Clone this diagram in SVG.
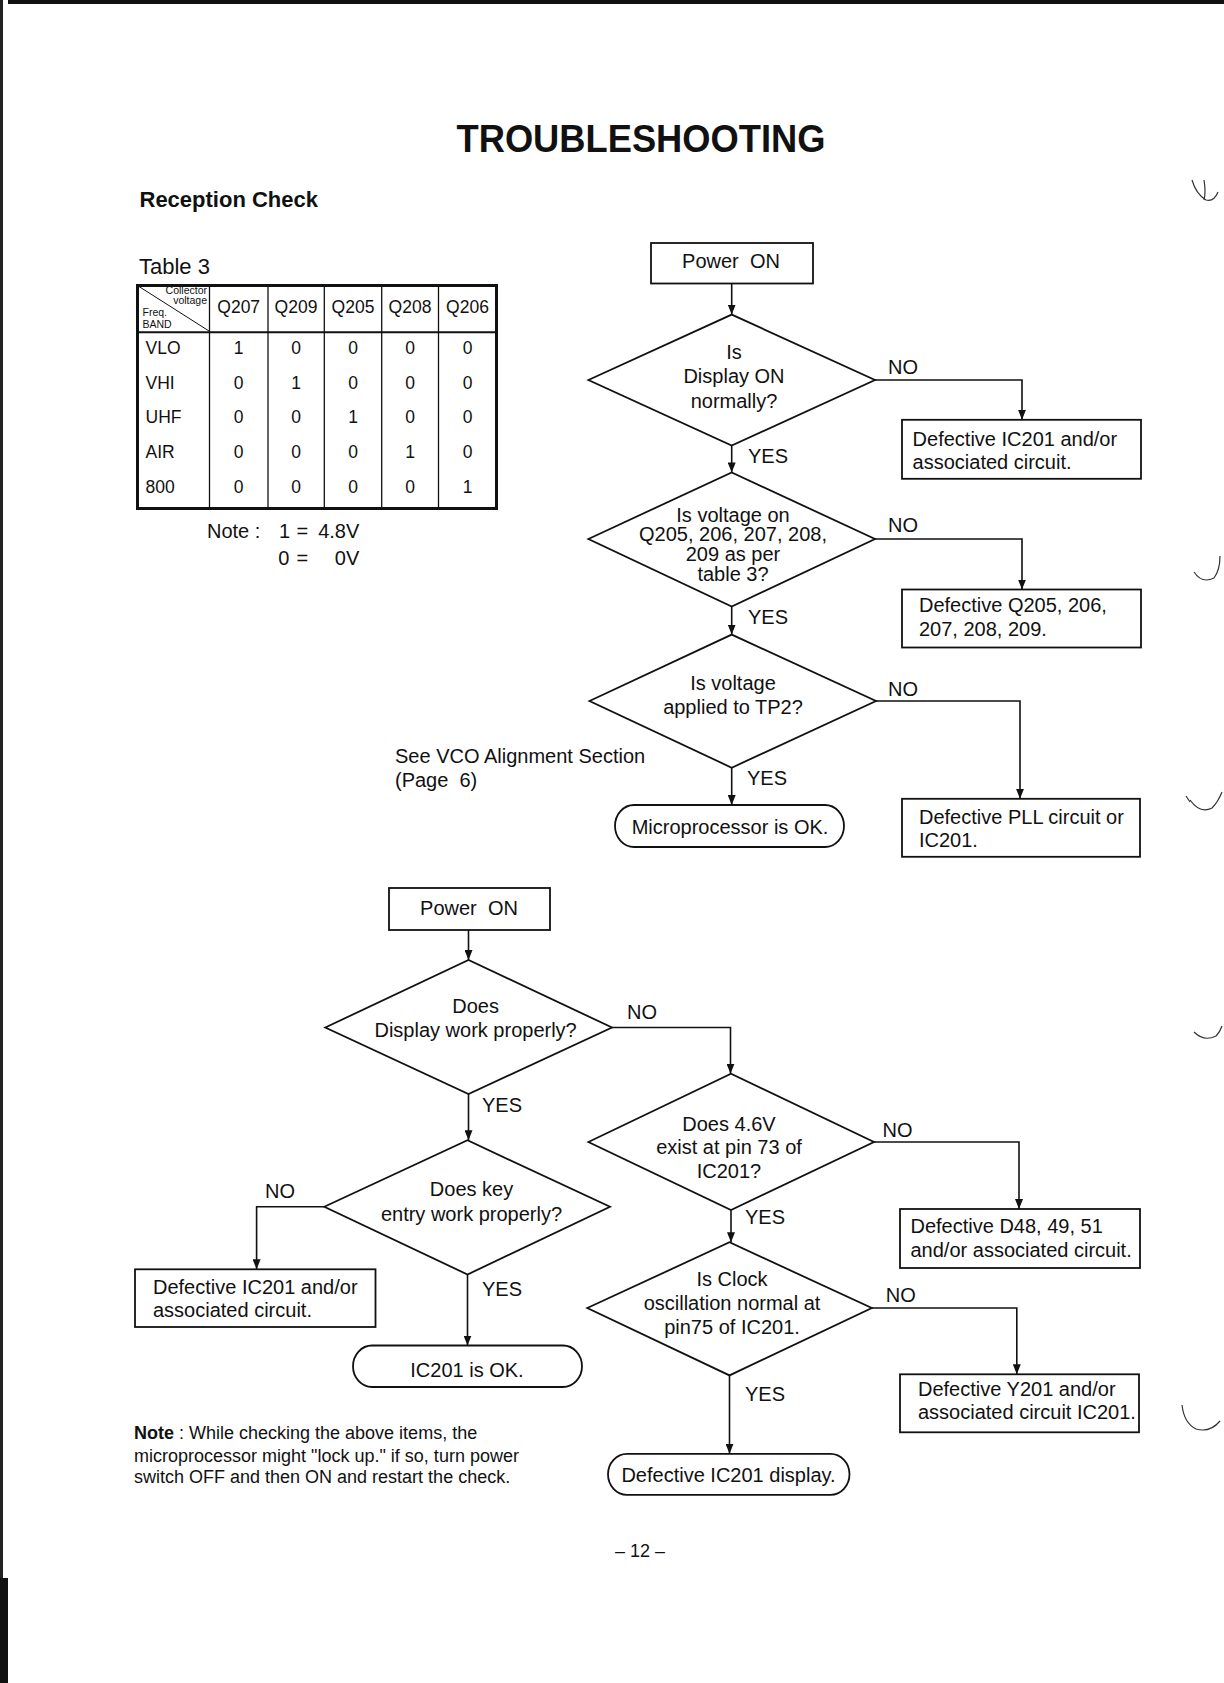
<svg xmlns="http://www.w3.org/2000/svg" width="1224" height="1683" viewBox="0 0 1224 1683">
<style>
text{font-family:"Liberation Sans",Arial,Helvetica,sans-serif;fill:#111}
.t{font-size:20px}
.c{text-anchor:middle}
.e{text-anchor:end}
.pre{white-space:pre}
.sm{font-size:10.5px}
.tb{font-size:17.5px}
.nt{font-size:18px}
.shape{fill:none;stroke:#111;stroke-width:1.8}
.thin{fill:none;stroke:#111;stroke-width:1.3}
#connectors path{fill:none;stroke:#111;stroke-width:1.6;marker-end:url(#ah)}
.art{fill:none;stroke:#333;stroke-width:1.2}
</style>
<defs>
<marker id="ah" viewBox="0 0 10 8" refX="10" refY="4" markerWidth="10" markerHeight="8" markerUnits="userSpaceOnUse" orient="auto">
<path d="M0,0 L10,4 L0,8 z" fill="#111"/>
</marker>
</defs>
<rect width="1224" height="1683" fill="#fff"/>
<!-- scan edges -->
<rect x="8" y="0" width="1216" height="4" fill="#111"/>
<rect x="0" y="0" width="3" height="1683" fill="#222"/>
<rect x="0" y="1578" width="8" height="105" fill="#111"/>
<g class="art">
<path d="M1192,180 q4,14 14,20 q8,2 12,-8"/><path d="M1204,180 q2,12 0,20"/>
<path d="M1194,572 q8,12 20,6 q6,-8 6,-22"/>
<path d="M1190,800 q10,14 22,8 q6,-6 10,-16"/><path d="M1186,796 l4,6"/>
<path d="M1194,1032 q10,10 22,4 q4,-4 6,-10"/>
<path d="M1182,1405 q2,18 14,24 q14,4 24,-8"/>
</g>
<text x="641" y="152" class="c" font-size="39" font-weight="bold" textLength="369" lengthAdjust="spacingAndGlyphs">TROUBLESHOOTING</text>
<text x="139.5" y="207" font-size="22" font-weight="bold">Reception Check</text>
<text x="139" y="273.5" font-size="22">Table 3</text>
<g id="table3">
<rect x="137.5" y="285.5" width="359" height="223" fill="none" stroke="#111" stroke-width="3"/>
<path class="thin" d="M209.5,285.5V508.5M268,285.5V508.5M324.3,285.5V508.5M381.7,285.5V508.5M438.5,285.5V508.5"/>
<path d="M137.5,332.3H496.5" stroke="#111" stroke-width="2"/>
<path d="M139,286.5L209,331" stroke="#111" stroke-width="1"/>
<text x="207" y="293.5" class="sm e">Collector</text>
<text x="207" y="303.5" class="sm e">voltage</text>
<text x="142.5" y="316" class="sm">Freq.</text>
<text x="142.5" y="328" class="sm">BAND</text>
<g class="tb c">
<text x="238.7" y="313.3">Q207</text><text x="296" y="313.3">Q209</text><text x="353" y="313.3">Q205</text><text x="410" y="313.3">Q208</text><text x="467.5" y="313.3">Q206</text>
</g>
<g class="tb">
<text x="145.5" y="354">VLO</text><text x="145.5" y="389">VHI</text><text x="145.5" y="423.3">UHF</text><text x="145.5" y="458.3">AIR</text><text x="145.5" y="493.3">800</text>
</g>
<g class="tb c">
<text x="238.7" y="354">1</text><text x="296" y="354">0</text><text x="353" y="354">0</text><text x="410" y="354">0</text><text x="467.5" y="354">0</text>
<text x="238.7" y="389">0</text><text x="296" y="389">1</text><text x="353" y="389">0</text><text x="410" y="389">0</text><text x="467.5" y="389">0</text>
<text x="238.7" y="423.3">0</text><text x="296" y="423.3">0</text><text x="353" y="423.3">1</text><text x="410" y="423.3">0</text><text x="467.5" y="423.3">0</text>
<text x="238.7" y="458.3">0</text><text x="296" y="458.3">0</text><text x="353" y="458.3">0</text><text x="410" y="458.3">1</text><text x="467.5" y="458.3">0</text>
<text x="238.7" y="493.3">0</text><text x="296" y="493.3">0</text><text x="353" y="493.3">0</text><text x="410" y="493.3">0</text><text x="467.5" y="493.3">1</text>
</g>
</g>
<g id="table-note" class="t">
<text x="207" y="538.3">Note :</text>
<text x="279" y="538.3">1</text><text x="296.5" y="538.3">=</text><text x="359.3" y="538.3" class="e">4.8V</text>
<text x="278.3" y="565">0</text><text x="296.5" y="565" fill="#777">=</text><text x="359.3" y="565" class="e">0V</text>
</g>

<g id="connectors">
<path d="M731.7,283.5V314.6"/>
<path d="M875,380H1022V419.8"/>
<path d="M731.7,445.6V472.4"/>
<path d="M875,539H1022V589.5"/>
<path d="M731.7,606.6V634.6"/>
<path d="M876,701H1020V798.8"/>
<path d="M731.7,767.7V805"/>
<path d="M468.5,930V960"/>
<path d="M612,1027.5H730.5V1073.7"/>
<path d="M874,1142H1019V1209"/>
<path d="M468.5,1094V1140.3"/>
<path d="M324.3,1206.8H256.6V1269.3"/>
<path d="M467.5,1274.5V1345.5"/>
<path d="M731,1210V1242.3"/>
<path d="M871.8,1308H1016.8V1374.3"/>
<path d="M729.5,1375.4V1453.8"/>
</g>
<g id="edge-labels" class="t">
<text x="888" y="373.6">NO</text>
<text x="748" y="462.8">YES</text>
<text x="888" y="531.5">NO</text>
<text x="748" y="623.8">YES</text>
<text x="888" y="695.8">NO</text>
<text x="747" y="785">YES</text>
<text x="627" y="1019">NO</text>
<text x="482" y="1112.4">YES</text>
<text x="882.6" y="1137">NO</text>
<text x="265" y="1198.2">NO</text>
<text x="482" y="1296">YES</text>
<text x="745" y="1224">YES</text>
<text x="885.8" y="1302.4">NO</text>
<text x="745" y="1401">YES</text>
</g>

<g id="power-on-1">
<rect class="shape" x="651" y="243" width="162" height="40.5"/>
<text x="731" y="268" class="t c pre" xml:space="preserve">Power  ON</text>
</g>
<g id="display-on">
<polygon class="shape" points="588.4,380 731.7,314.6 875,380 731.7,445.6"/>
<text class="t c"><tspan x="734" y="358.6">Is</tspan><tspan x="734" y="383.3">Display ON</tspan><tspan x="734" y="408">normally?</tspan></text>
</g>
<g id="defective-ic201-a">
<rect class="shape" x="902" y="419.8" width="239" height="59"/>
<text class="t"><tspan x="912.6" y="445.6">Defective IC201 and/or</tspan><tspan x="912.6" y="469.2">associated circuit.</tspan></text>
</g>
<g id="voltage-table3">
<polygon class="shape" points="588.4,539 731.7,472.4 875,539 731.7,606.6"/>
<text class="t c"><tspan x="733" y="521.8">Is voltage on</tspan><tspan x="733" y="541">Q205, 206, 207, 208,</tspan><tspan x="733" y="560.5">209 as per</tspan><tspan x="733" y="580.9">table 3?</tspan></text>
</g>
<g id="defective-q">
<rect class="shape" x="902" y="589.5" width="239" height="58"/>
<text class="t"><tspan x="919" y="612">Defective Q205, 206,</tspan><tspan x="919" y="635.6">207, 208, 209.</tspan></text>
</g>
<g id="voltage-tp2">
<polygon class="shape" points="589.5,701 731.7,634.6 876,701 731.7,767.7"/>
<text class="t c"><tspan x="733" y="690.4">Is voltage</tspan><tspan x="733" y="714">applied to TP2?</tspan></text>
</g>
<g id="defective-pll">
<rect class="shape" x="902" y="798.8" width="238" height="58"/>
<text class="t"><tspan x="919" y="823.5">Defective PLL circuit or</tspan><tspan x="919" y="847">IC201.</tspan></text>
</g>
<g id="see-vco">
<text class="t pre" xml:space="preserve"><tspan x="395" y="763.4">See VCO Alignment Section</tspan><tspan x="395" y="787">(Page  6)</tspan></text>
</g>
<g id="micro-ok">
<rect class="shape" x="615" y="805" width="229" height="42" rx="19" ry="21"/>
<text x="730" y="834" class="t c">Microprocessor is OK.</text>
</g>

<g id="power-on-2">
<rect class="shape" x="389" y="888" width="161" height="42"/>
<text x="469" y="914.8" class="t c pre" xml:space="preserve">Power  ON</text>
</g>
<g id="display-work">
<polygon class="shape" points="325.3,1027.5 468.5,960 612,1027.5 468.5,1094"/>
<text class="t c"><tspan x="475.6" y="1012.5">Does</tspan><tspan x="475.6" y="1037">Display work properly?</tspan></text>
</g>
<g id="pin73">
<polygon class="shape" points="588.4,1142 731,1073.7 874,1142 731,1210"/>
<text class="t c"><tspan x="729" y="1130.6">Does 4.6V</tspan><tspan x="729" y="1154">exist at pin 73 of</tspan><tspan x="729" y="1177.6">IC201?</tspan></text>
</g>
<g id="defective-d48">
<rect class="shape" x="900" y="1209" width="240" height="59"/>
<text class="t"><tspan x="910.5" y="1232.6">Defective D48, 49, 51</tspan><tspan x="910.5" y="1257.3">and/or associated circuit.</tspan></text>
</g>
<g id="key-entry">
<polygon class="shape" points="324.3,1206.8 467.5,1140.3 610,1206.8 467.5,1274.5"/>
<text class="t c"><tspan x="471.5" y="1196">Does key</tspan><tspan x="471.5" y="1220.5">entry work properly?</tspan></text>
</g>
<g id="defective-ic201-b">
<rect class="shape" x="135" y="1269.3" width="240.5" height="57.7"/>
<text class="t"><tspan x="153" y="1294">Defective IC201 and/or</tspan><tspan x="153" y="1317">associated circuit.</tspan></text>
</g>
<g id="ic201-ok">
<rect class="shape" x="353" y="1345.5" width="229" height="41.5" rx="19" ry="20.7"/>
<text x="467" y="1376.5" class="t c">IC201 is OK.</text>
</g>
<g id="clock">
<polygon class="shape" points="587.3,1308 729.5,1242.3 871.8,1308 729.5,1375.4"/>
<text class="t c"><tspan x="732" y="1286.3">Is Clock</tspan><tspan x="732" y="1310">oscillation normal at</tspan><tspan x="732" y="1333.5">pin75 of IC201.</tspan></text>
</g>
<g id="defective-y201">
<rect class="shape" x="900" y="1374.3" width="239" height="58"/>
<text class="t"><tspan x="918" y="1395.8">Defective Y201 and/or</tspan><tspan x="918" y="1419.4">associated circuit IC201.</tspan></text>
</g>
<g id="defective-display">
<rect class="shape" x="608" y="1453.8" width="241.5" height="41" rx="19" ry="20.5"/>
<text x="728.5" y="1481.7" class="t c">Defective IC201 display.</text>
</g>

<g id="bottom-note" class="nt">
<text x="134" y="1438.5"><tspan font-weight="bold">Note</tspan> : While checking the above items, the</text>
<text x="134" y="1461.7">microprocessor might "lock up." if so, turn power</text>
<text x="134" y="1482.7">switch OFF and then ON and restart the check.</text>
</g>
<text x="640" y="1557" class="nt c">– 12 –</text>
</svg>
